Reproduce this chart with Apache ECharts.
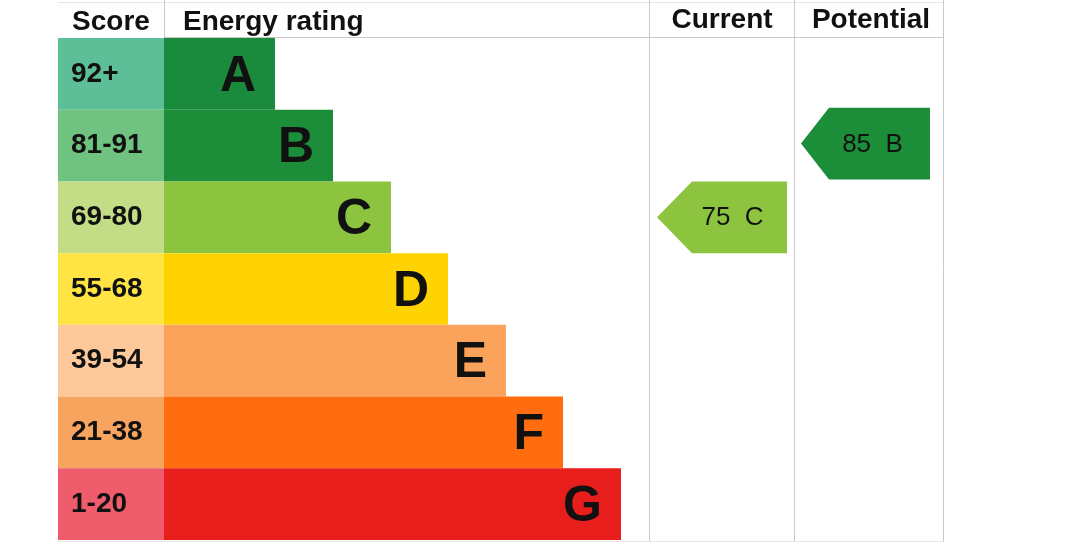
<!DOCTYPE html>
<html>
<head>
<meta charset="utf-8">
<script src="https://cdn.jsdelivr.net/npm/echarts@6/dist/echarts.min.js"></script>
<style>
  html, body { margin: 0; padding: 0; background: #fff; }
  #chart { width: 1081px; height: 554px; }
</style>
</head>
<body>
<div id="chart"></div>
<script>
// rating bands, top to bottom
const bands = ['A', 'B', 'C', 'D', 'E', 'F', 'G']
const scoreRanges = ['92+', '81-91', '69-80', '55-68', '39-54', '21-38', '1-20']
// length of each coloured rating bar (chart units)
const barLengths = [111, 169, 227, 284, 342, 399, 457]
const scoreColors = ['#5cbf98', '#70c281', '#c3dd86', '#ffe444', '#fdc99a', '#f7a55e', '#ef5c6c']
const bandColors = ['#1a8a3d', '#1c8d39', '#8cc43f', '#ffd302', '#fba35b', '#ff6d10', '#e81e1c']

const currentRating = 75
const currentBand = 'C'
const potentialRating = 85
const potentialBand = 'B'

const FONT = '"Liberation Sans", Arial, sans-serif'
const SCORE_COL = 106
const LINE = '#c9c9c9'

const chart = echarts.init(document.getElementById('chart'))

// arrows: [right edge, row, left tip, point depth, text]
const arrows = [
    [729, bands.indexOf(currentBand), 599, 35, currentRating + '  ' + currentBand],
    [872, bands.indexOf(potentialBand), 743, 28, potentialRating + '  ' + potentialBand]
]

chart.setOption({
    animation: false,
    grid: { left: 58, top: 38, width: 886, height: 502 },
    xAxis: { type: 'value', min: 0, max: 886, show: false },
    yAxis: { type: 'category', data: bands, inverse: true, show: false },
    series: [
        {
            type: 'bar',
            stack: 'row',
            barCategoryGap: '0%',
            data: scoreRanges.map((s, i) => ({
                value: SCORE_COL,
                itemStyle: { color: scoreColors[i] }
            })),
            label: {
                show: true,
                position: 'insideLeft',
                distance: 13,
                formatter: p => scoreRanges[p.dataIndex],
                fontFamily: FONT,
                fontWeight: 'bold',
                fontSize: 28,
                color: '#111'
            }
        },
        {
            type: 'bar',
            stack: 'row',
            barCategoryGap: '0%',
            data: barLengths.map((v, i) => ({
                value: v,
                itemStyle: { color: bandColors[i] }
            })),
            label: {
                show: true,
                position: 'insideRight',
                distance: 19,
                formatter: p => bands[p.dataIndex],
                fontFamily: FONT,
                fontWeight: 'bold',
                fontSize: 50,
                color: '#111',
                offset: [0, 3]
            }
        },
        {
            type: 'custom',
            data: arrows,
            renderItem: (params, api) => {
                const row = api.value(1)
                const right = api.coord([api.value(0), row])
                const tip = api.coord([api.value(2), row])
                const depth = api.value(3)
                const h = api.size([0, 1])[1]
                const cy = right[1] - (row === 1 ? 2 : 0)
                const top = cy - h / 2
                const bot = cy + h / 2
                return {
                    type: 'group',
                    children: [
                        {
                            type: 'polygon',
                            shape: {
                                points: [[tip[0], cy], [tip[0] + depth, top], [right[0], top], [right[0], bot], [tip[0] + depth, bot]]
                            },
                            style: { fill: bandColors[row] }
                        },
                        {
                            type: 'text',
                            style: {
                                text: arrows[params.dataIndex][4],
                                x: (tip[0] + depth + right[0]) / 2 - 7,
                                y: cy + 1,
                                align: 'center',
                                verticalAlign: 'middle',
                                font: '26px ' + FONT,
                                fill: '#111'
                            }
                        }
                    ]
                }
            }
        }
    ],
    graphic: [
        { type: 'line', shape: { x1: 58, y1: 2.5, x2: 944, y2: 2.5 }, style: { stroke: '#e6e6e6', lineWidth: 1 } },
        { type: 'line', shape: { x1: 164, y1: 37.5, x2: 944, y2: 37.5 }, style: { stroke: LINE, lineWidth: 1 } },
        { type: 'line', shape: { x1: 58, y1: 541.5, x2: 944, y2: 541.5 }, style: { stroke: '#e6e6e6', lineWidth: 1 } },
        { type: 'line', shape: { x1: 164.5, y1: 0, x2: 164.5, y2: 38 }, style: { stroke: LINE, lineWidth: 1 } },
        { type: 'line', shape: { x1: 649.5, y1: 0, x2: 649.5, y2: 541 }, style: { stroke: LINE, lineWidth: 1 } },
        { type: 'line', shape: { x1: 794.5, y1: 0, x2: 794.5, y2: 541 }, style: { stroke: LINE, lineWidth: 1 } },
        { type: 'line', shape: { x1: 943.5, y1: 0, x2: 943.5, y2: 541 }, style: { stroke: LINE, lineWidth: 1 } },
        { type: 'text', style: { text: 'Score', x: 111, y: 22, align: 'center', verticalAlign: 'middle', font: 'bold 28px ' + FONT, fill: '#111' } },
        { type: 'text', style: { text: 'Energy rating', x: 183, y: 22, align: 'left', verticalAlign: 'middle', font: 'bold 28px ' + FONT, fill: '#111' } },
        { type: 'text', style: { text: 'Current', x: 722, y: 20, align: 'center', verticalAlign: 'middle', font: 'bold 28px ' + FONT, fill: '#111' } },
        { type: 'text', style: { text: 'Potential', x: 871, y: 20, align: 'center', verticalAlign: 'middle', font: 'bold 28px ' + FONT, fill: '#111' } }
    ]
})
</script>
</body>
</html>
